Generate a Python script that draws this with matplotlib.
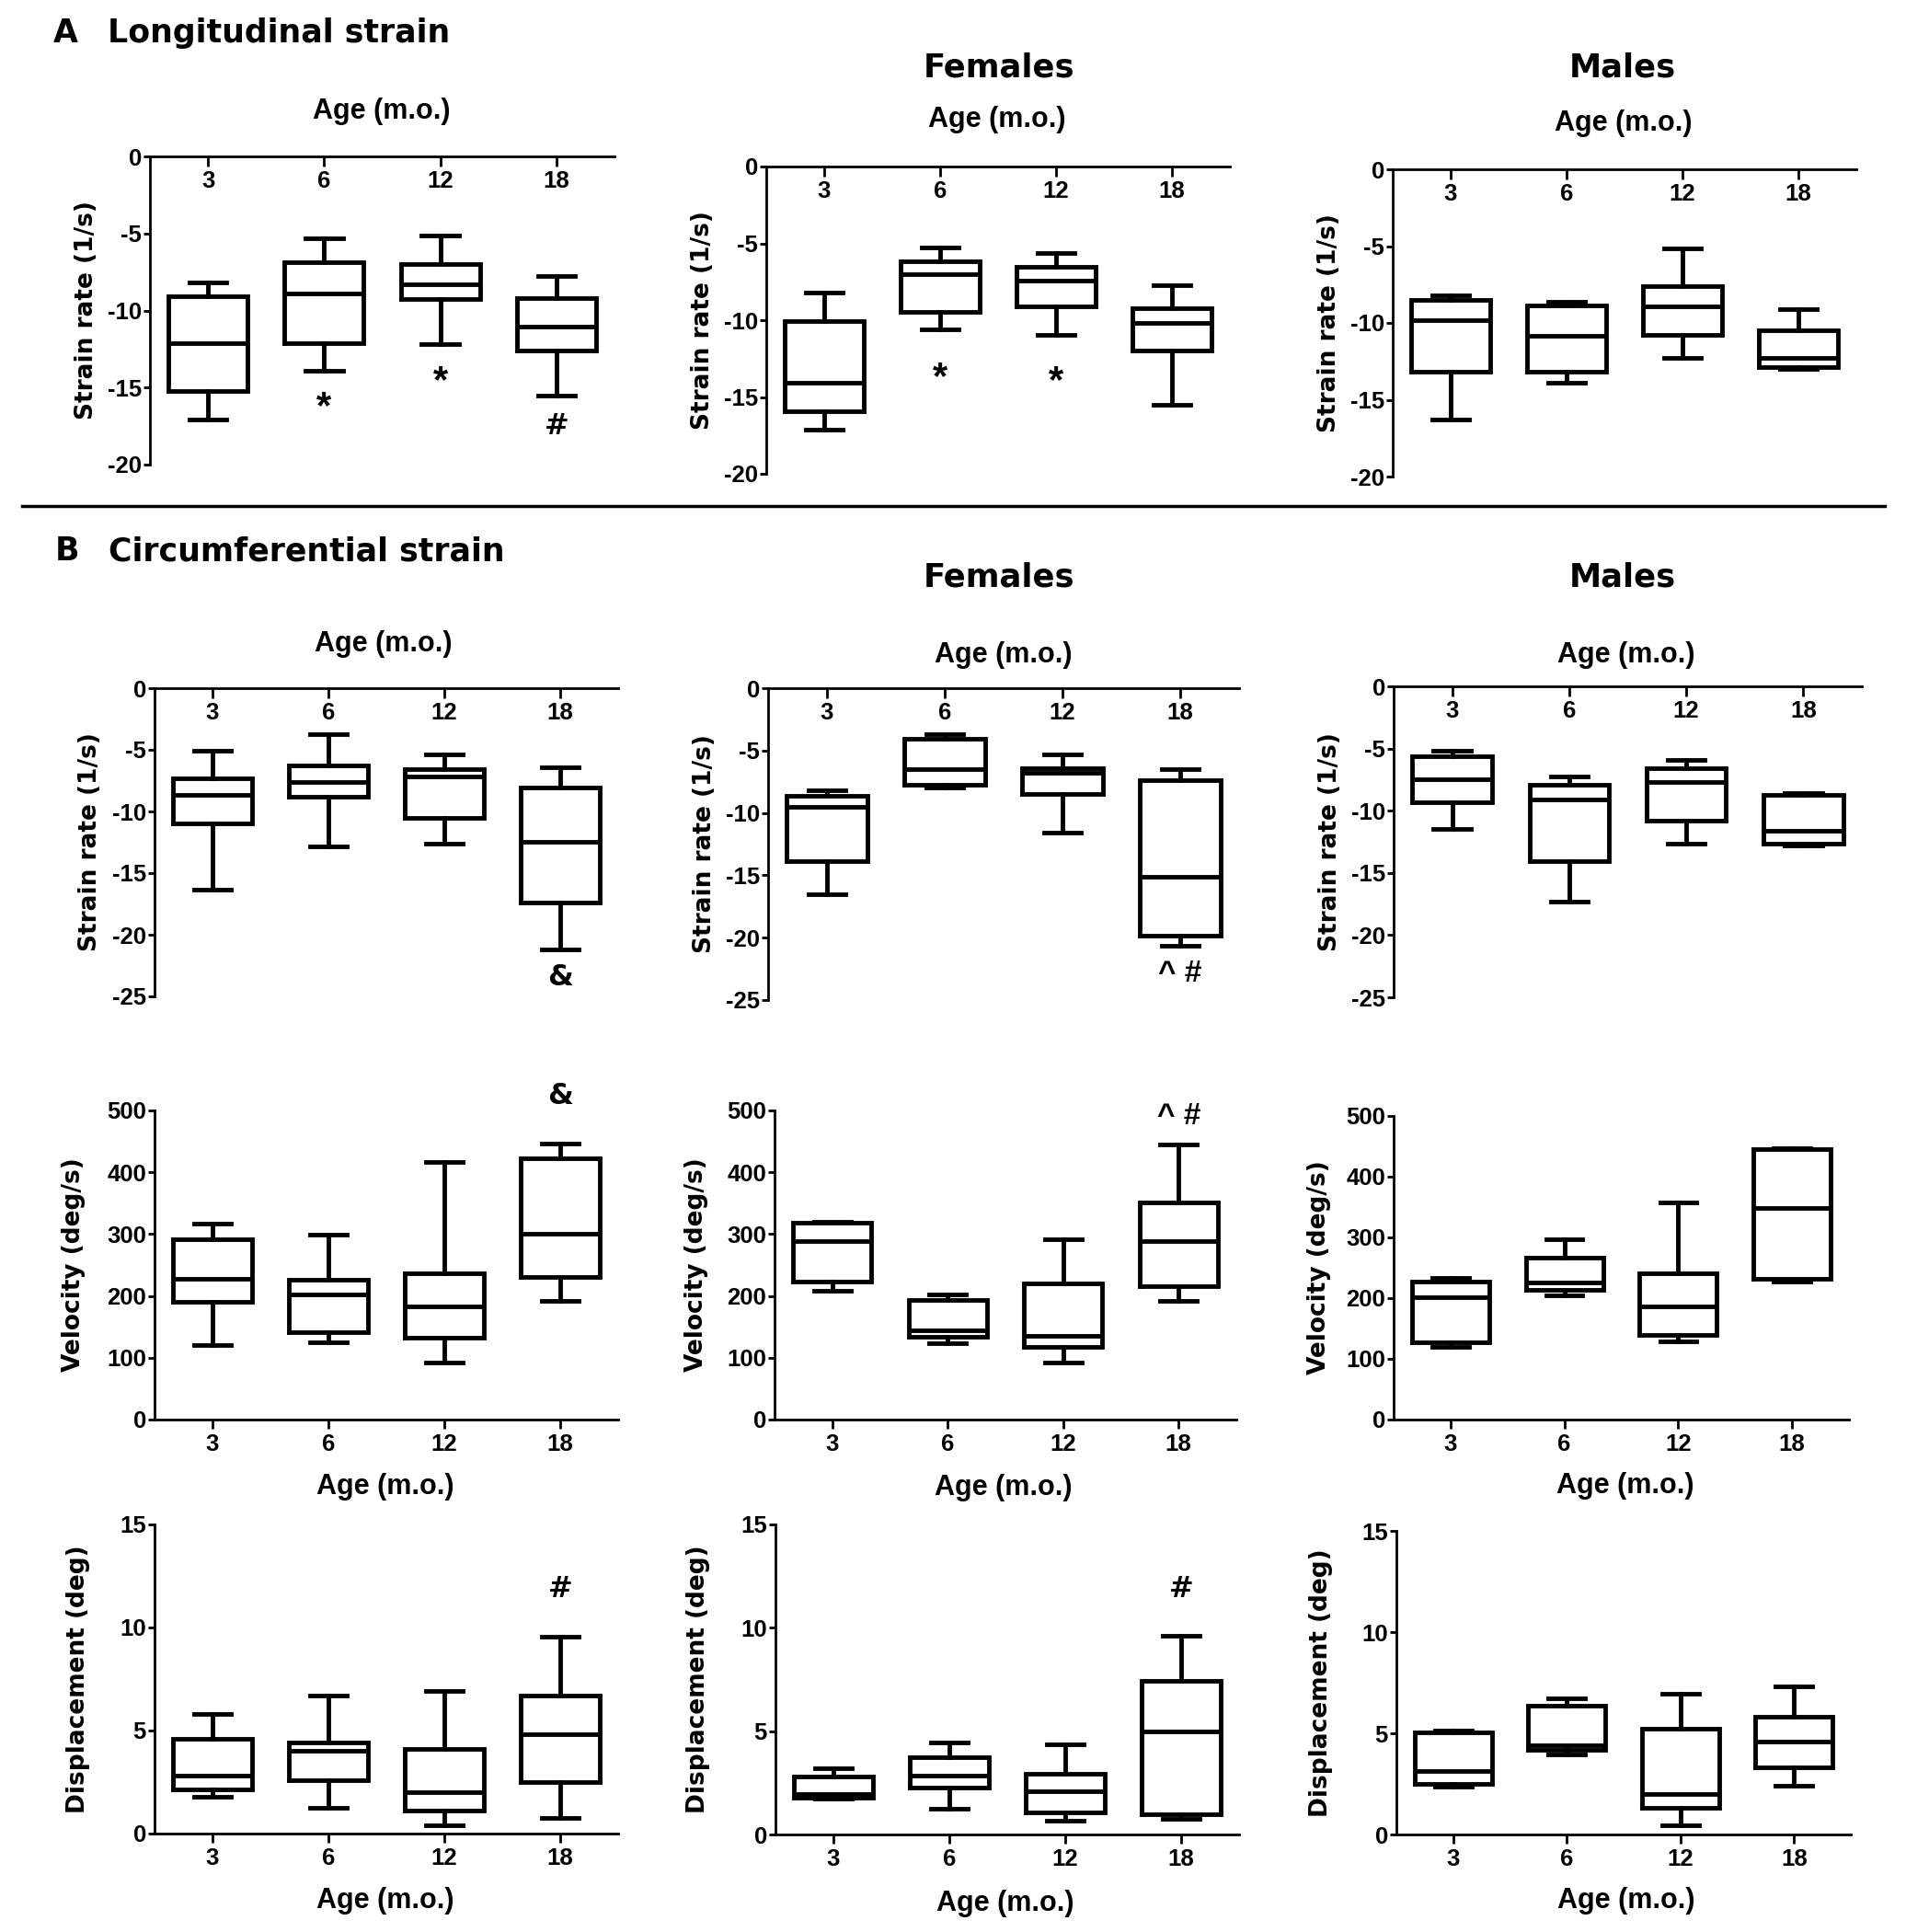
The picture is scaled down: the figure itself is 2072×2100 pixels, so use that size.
import matplotlib
matplotlib.use("Agg")
import matplotlib.pyplot as plt

W, H = 2072, 2100

# x categories
ages = ['3', '6', '12', '18']

# box stats per age: [whisker low, Q1, median, Q3, whisker high]
long_all = [[-17.1, -15.2, -12.1, -9.1, -8.15],
            [-13.9, -12.1, -8.9, -6.85, -5.3],
            [-12.2, -9.25, -8.3, -7.0, -5.15],
            [-15.5, -12.6, -11.05, -9.2, -7.75]]
long_fem = [[-17.1, -15.9, -14.1, -10.05, -8.2],
            [-10.6, -9.45, -7.0, -6.15, -5.25],
            [-10.95, -9.1, -7.4, -6.55, -5.65],
            [-15.5, -12.0, -10.15, -9.2, -7.75]]
long_male = [[-16.3, -13.2, -9.85, -8.5, -8.2],
             [-13.9, -13.15, -10.85, -8.85, -8.65],
             [-12.25, -10.75, -8.9, -7.6, -5.15],
             [-13.0, -12.85, -12.3, -10.45, -9.1]]

circ_sr_all = [[-16.35, -10.95, -8.65, -7.35, -5.1],
               [-12.85, -8.8, -7.6, -6.3, -3.7],
               [-12.6, -10.5, -7.15, -6.55, -5.35],
               [-21.2, -17.4, -12.45, -8.05, -6.45]]
circ_sr_fem = [[-16.5, -13.9, -9.5, -8.65, -8.2],
               [-8.0, -7.75, -6.5, -4.05, -3.7],
               [-11.6, -8.45, -6.8, -6.4, -5.3],
               [-20.65, -19.85, -15.15, -7.35, -6.5]]
circ_sr_male = [[-11.45, -9.35, -7.5, -5.65, -5.2],
                [-17.3, -14.05, -9.1, -7.9, -7.25],
                [-12.65, -10.8, -7.7, -6.6, -5.9],
                [-12.8, -12.65, -11.6, -8.75, -8.55]]

vel_all = [[120, 190, 227, 291, 317],
           [125, 142, 203, 226, 299],
           [93, 133, 183, 236, 416],
           [192, 230, 301, 422, 446]]
vel_fem = [[208, 223, 289, 318, 320],
           [124, 134, 144, 193, 203],
           [92, 117, 136, 220, 292],
           [192, 216, 289, 351, 445]]
vel_male = [[120, 127, 202, 227, 233],
            [204, 213, 226, 267, 297],
            [129, 139, 186, 241, 358],
            [228, 232, 349, 445, 447]]

disp_all = [[1.8, 2.15, 2.8, 4.6, 5.8],
            [1.25, 2.6, 4.0, 4.4, 6.7],
            [0.42, 1.1, 2.0, 4.1, 6.9],
            [0.75, 2.5, 4.8, 6.7, 9.55]]
disp_fem = [[1.75, 1.8, 1.95, 2.8, 3.2],
            [1.25, 2.25, 2.85, 3.75, 4.45],
            [0.65, 1.05, 2.1, 2.95, 4.35],
            [0.75, 1.0, 5.0, 7.45, 9.6]]
disp_male = [[2.35, 2.5, 3.15, 5.05, 5.15],
             [3.95, 4.2, 4.4, 6.35, 6.75],
             [0.45, 1.3, 2.0, 5.25, 6.95],
             [2.4, 3.3, 4.6, 5.8, 7.3]]

# significance marks: (age index, y value, text)
marks_long_all = [(1, -15.6, '*'), (2, -13.9, '*'), (3, -17.5, '#')]
marks_long_fem = [(1, -13.05, '*'), (2, -13.3, '*')]
marks_circ_sr_all = [(3, -23.5, '&')]
marks_circ_sr_fem = [(3, -22.9, '^ #')]
marks_vel_all = [(3, 523, '&')]
marks_vel_fem = [(3, 490, '^ #')]
marks_disp_all = [(3, 11.85, '#')]
marks_disp_fem = [(3, 11.85, '#')]

plt.rcParams['font.family'] = ['Liberation Sans', 'DejaVu Sans']
TICK_FONT = ['Liberation Sans Narrow', 'Liberation Sans', 'DejaVu Sans']

fig = plt.figure(figsize=(W / 100, H / 100), dpi=100)

LW = 3.5
line_kw = dict(color='black', linewidth=LW, solid_joinstyle='miter')


def fx(x):
    return x / W


def fy(y):
    return 1 - y / H


def panel(box, stats, ylim, yticks, ylabel, top_axis, ylab_off, marks=()):
    x0, y0, x1, y1 = box
    ax = fig.add_axes([fx(x0), fy(y1), (x1 - x0) / W, (y1 - y0) / H])
    pos = [1, 2, 3, 4]
    bstats = []
    for s in stats:
        bstats.append(dict(whislo=s[0], q1=s[1], med=s[2], q3=s[3],
                           whishi=s[4], fliers=[]))
    ax.bxp(bstats, positions=pos, widths=0.68, capwidths=0.32,
           showfliers=False, manage_ticks=False,
           boxprops=line_kw, whiskerprops=line_kw,
           capprops=line_kw, medianprops=line_kw)
    ax.set_xlim(0.5, 4.5)
    ax.set_ylim(*ylim)
    ax.set_yticks(yticks)
    ax.set_yticklabels([str(t) for t in yticks], fontsize=18.5,
                       family=TICK_FONT, fontweight='bold')
    ax.tick_params(axis='y', direction='out', length=5, width=2, pad=1.5)
    ax.spines['right'].set_visible(False)
    for sp in ax.spines.values():
        sp.set_linewidth(2)
    ax.set_xticks(pos)
    if top_axis:
        ax.spines['bottom'].set_visible(False)
        ax.tick_params(axis='x', top=True, bottom=False, labeltop=False,
                       labelbottom=False, direction='in', length=8, width=2)
        for p, lab in zip(pos, ages):
            ax.annotate(lab, xy=(p, 1), xycoords=('data', 'axes fraction'),
                        xytext=(0, -27), textcoords='offset pixels',
                        ha='center', va='center', fontsize=18.5,
                        family=TICK_FONT, fontweight='bold')
    else:
        ax.spines['top'].set_visible(False)
        ax.set_xticklabels(ages, fontsize=18.5, family=TICK_FONT,
                           fontweight='bold')
        ax.tick_params(axis='x', direction='out', length=7, width=2, pad=4)
    ax.set_ylabel(ylabel, fontsize=19, fontweight='bold',
                  family='DejaVu Sans', va='center')
    ax.yaxis.set_label_coords(-ylab_off / (x1 - x0), 0.5)
    for i, yv, txt in marks:
        if txt == '*':
            ax.annotate(txt, xy=(pos[i], yv), xytext=(0, -12),
                        textcoords='offset pixels', ha='center', va='center',
                        fontsize=30, fontweight='bold')
        elif txt == '^ #':
            ax.text(pos[i], yv, txt, ha='center', va='center',
                    fontsize=24, fontweight='bold', clip_on=False)
        else:
            ax.text(pos[i], yv, txt, ha='center', va='center',
                    fontsize=23, fontweight='bold', family='DejaVu Sans',
                    clip_on=False)
    return ax


def age_label(x, y):
    fig.text(fx(x), fy(y), 'Age (m.o.)', ha='center', va='center',
             fontsize=22, fontweight='bold')


sr_label = 'Strain rate (1/s)'

# A: longitudinal strain rate
panel((163, 170, 668, 505), long_all, (-20, 0), [0, -5, -10, -15, -20],
      sr_label, True, 69, marks_long_all)
panel((833, 181, 1337, 515), long_fem, (-20, 0), [0, -5, -10, -15, -20],
      sr_label, True, 69, marks_long_fem)
panel((1514, 184, 2018, 518), long_male, (-20, 0), [0, -5, -10, -15, -20],
      sr_label, True, 69)
age_label(415, 121)
age_label(1084, 130)
age_label(1765, 134)

# B: circumferential strain rate
sr_ticks = [0, -5, -10, -15, -20, -25]
panel((168, 748, 672, 1083), circ_sr_all, (-25, 0), sr_ticks,
      sr_label, True, 70, marks_circ_sr_all)
panel((835, 748, 1347, 1087), circ_sr_fem, (-25, 0), sr_ticks,
      sr_label, True, 69, marks_circ_sr_fem)
panel((1515, 746, 2024, 1084), circ_sr_male, (-25, 0), sr_ticks,
      sr_label, True, 69)
age_label(417, 700)
age_label(1091, 712)
age_label(1768, 712)

# velocity
vel_ticks = [0, 100, 200, 300, 400, 500]
panel((168, 1207, 672, 1543), vel_all, (0, 500), vel_ticks,
      'Velocity (deg/s)', False, 88, marks_vel_all)
panel((842, 1207, 1344, 1543), vel_fem, (0, 500), vel_ticks,
      'Velocity (deg/s)', False, 85, marks_vel_fem)
panel((1515, 1213, 2010, 1543), vel_male, (0, 500), vel_ticks,
      'Velocity (deg/s)', False, 81)
age_label(419, 1616)
age_label(1091, 1617)
age_label(1767, 1615)

# displacement
disp_ticks = [0, 5, 10, 15]
panel((168, 1657, 672, 1993), disp_all, (0, 15), disp_ticks,
      'Displacement (deg)', False, 83, marks_disp_all)
panel((843, 1657, 1347, 1994), disp_fem, (0, 15), disp_ticks,
      'Displacement (deg)', False, 84, marks_disp_fem)
panel((1518, 1664, 2012, 1994), disp_male, (0, 15), disp_ticks,
      'Displacement (deg)', False, 82)
age_label(419, 2066)
age_label(1093, 2069)
age_label(1768, 2066)

# titles
title_kw = dict(fontsize=25, fontweight='bold', family='DejaVu Sans', va='center')
fig.text(fx(58), fy(36), 'A', ha='left', **title_kw)
fig.text(fx(117), fy(36), 'Longitudinal strain', ha='left', **title_kw)
fig.text(fx(60), fy(599), 'B', ha='left', **title_kw)
fig.text(fx(118), fy(599), 'Circumferential strain', ha='left', **title_kw)
for yy in (73, 628):
    fig.text(fx(1086), fy(yy), 'Females', ha='center', fontsize=25.5,
             fontweight='bold', family='DejaVu Sans', va='center')
    fig.text(fx(1764), fy(yy), 'Males', ha='center', fontsize=25.5,
             fontweight='bold', family='DejaVu Sans', va='center')

# divider between A and B
fig.add_artist(plt.Line2D([fx(24), fx(2049)], [fy(550), fy(550)],
                          color='black', linewidth=2.5))

fig.savefig('out.png', dpi=100)
